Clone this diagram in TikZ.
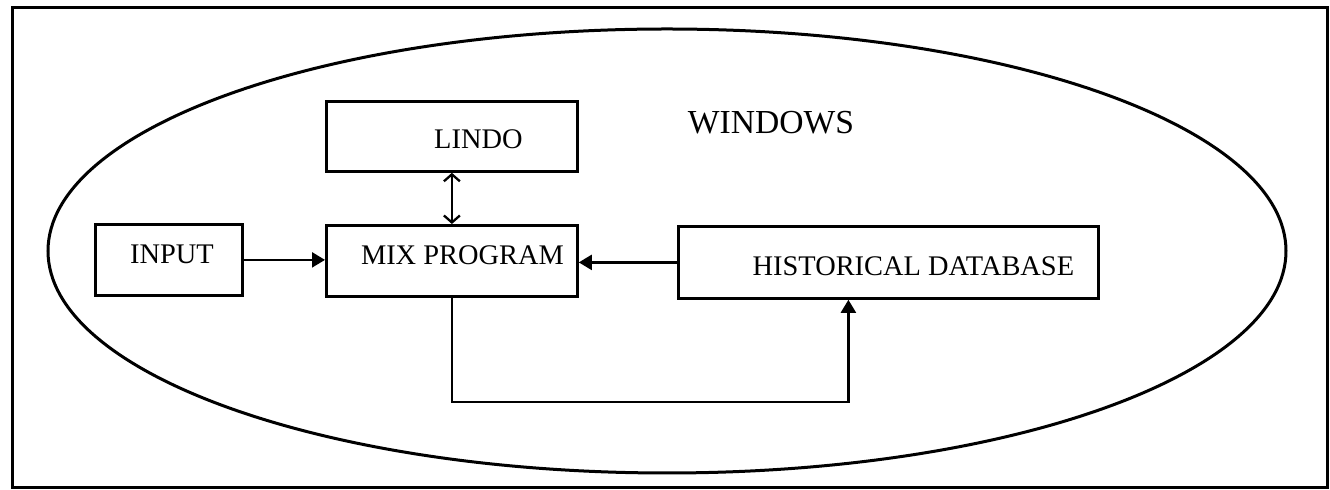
\documentclass[tikz,border=0pt]{standalone}
\usepackage{fontspec}
\setmainfont{Liberation Serif}
\usetikzlibrary{arrows.meta}
\begin{document}
\begin{tikzpicture}[x=0.5pt,y=-0.5pt,
  frame/.style={line width=1.5pt},
  box/.style={draw,line width=1.4pt,inner sep=0pt,anchor=north west},
  txt/.style={font=\fontsize{14.2}{16}\selectfont},
  arr/.style={line width=1.15pt,-{Triangle[length=6.5pt,width=7.5pt]}},
  dbl/.style={line width=1.15pt,{Straight Barb[length=3.5pt,width=8pt]}-{Straight Barb[length=3.5pt,width=8pt]}}]
\useasboundingbox (0,0) rectangle (1330,490);
\draw[frame] (12,8) rectangle (1327,488);
\draw[frame] (667,251) ellipse [x radius=619, y radius=222];
\node[font=\fontsize{16.8}{19}\selectfont] (windows) at (771,123) {WINDOWS};
\node[box,minimum width=125.5pt,minimum height=35pt,
  label={[txt,xshift=13.25pt,yshift=-1.25pt]center:LINDO}] (lindo) at (325,100) {};
\node[box,minimum width=125.5pt,minimum height=35.5pt,
  label={[txt,xshift=5.25pt,yshift=2.75pt]center:MIX PROGRAM}] (mix) at (325,224) {};
\node[box,minimum width=73.5pt,minimum height=35.5pt,
  label={[txt,xshift=1.5pt,yshift=3pt]center:INPUT}] (input) at (94,223) {};
\node[box,minimum width=210pt,minimum height=36pt,
  label={[txt,xshift=12.5pt,yshift=-2pt]center:HISTORICAL DATABASE}] (hist) at (677,225) {};
\coordinate (loop) at (450,402);
\draw[arr] (input.east) -- (mix.west |- input.east);
\draw[arr] (hist.west) -- (mix.east |- hist.west);
\draw[dbl] (lindo.south) -- (mix.north);
\draw[arr] (mix.south) -- (mix.south |- loop) -| ([xshift=-20pt]hist.south);
\end{tikzpicture}
\end{document}
